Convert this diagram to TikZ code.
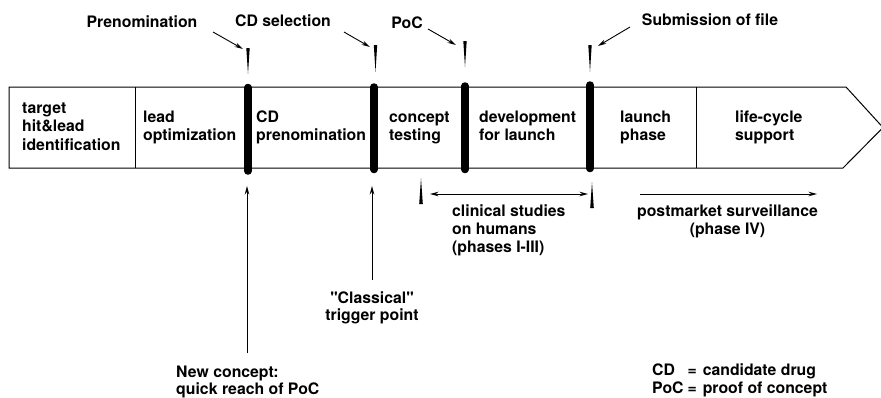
\documentclass[tikz,border=0pt]{standalone}
\usepackage{fontspec}
\newfontfamily\heros{TeX Gyre Heros}
\usetikzlibrary{arrows.meta}
\begin{document}
\begin{tikzpicture}[x=1pt,y=-1pt,
  lbl/.style={font=\heros\bfseries\fontsize{15.8}{18.5}\selectfont, inner sep=0pt, align=left, anchor=base west},
  ctr/.style={lbl, align=center, anchor=base},
  thickbar/.style={line width=7.5pt, line cap=round},
  thin/.style={line width=1pt},
  wedge/.style={fill=black, draw=none},
  pointer/.style={-{Stealth[length=8.5pt,width=4.5pt]}, line width=0.9pt},
  dpointer/.style={{Stealth[length=8.5pt,width=4.5pt]}-{Stealth[length=8.5pt,width=4.5pt]}, line width=0.9pt}]
\path[use as bounding box] (0,0) rectangle (881,397);

% band
\draw[thin] (9,87) -- (846,87) -- (883,127.5) -- (843,168) -- (9,168) -- cycle;
\draw[thin] (135,87) -- (135,168);
\draw[thin] (696,87) -- (696,168);

% thick milestone bars
\draw[thickbar] (248,87.5) -- (248,171);
\draw[thickbar] (374,87) -- (374,169.5);
\draw[thickbar] (465,86) -- (465,169.5);
\draw[thickbar] (590,85) -- (590,168.5);

% top wedges
\fill[wedge] (246.3,48) -- (249.7,48) -- (248,74) -- cycle;
\fill[wedge] (373.8,45) -- (377.2,45) -- (375.5,72) -- cycle;
\fill[wedge] (463.3,41) -- (466.7,41) -- (465,67) -- cycle;
\fill[wedge] (588.3,45) -- (591.7,45) -- (590,72) -- cycle;

% bottom wedges
\fill[wedge] (421,178) -- (422.8,204) -- (419.2,204) -- cycle;
\fill[wedge] (592,182) -- (593.8,208) -- (590.2,208) -- cycle;

% band texts (anchor = baseline of last line)
\node[lbl] (t1) at (22,150) {target\\hit\&lead\\identification};
\node[lbl] (t2) at (143,140.5) {lead\\optimization};
\node[lbl] (t3) at (256,140.5) {CD\\prenomination};
\node[lbl] (t4) at (389,140.5) {concept\\testing};
\node[lbl] (t5) at (479,140.5) {development\\for launch};
\node[lbl] (t6) at (620,140.5) {launch\\phase};
\node[lbl] (t7) at (735,140.5) {life-cycle\\support};

% top labels and pointers
\node[ctr] (pre) at (142,27) {Prenomination};
\node[ctr] (cds) at (283,26) {CD selection};
\node[ctr] (poc) at (407,28) {PoC};
\node[ctr] (sub) at (710,25) {Submission of file};
\coordinate (preS) at (213,32); \coordinate (preE) at (243,49);
\coordinate (cdsS) at (344,32); \coordinate (cdsE) at (370,47);
\coordinate (pocS) at (428,29); \coordinate (pocE) at (456,45);
\coordinate (subS) at (630,27); \coordinate (subE) at (598,46);
\draw[pointer] (preS) -- (preE);
\draw[pointer] (cdsS) -- (cdsE);
\draw[pointer] (pocS) -- (pocE);
\draw[pointer] (subS) -- (subE);

% clinical / postmarket ranges
\coordinate (clA) at (430,194); \coordinate (clB) at (588,194);
\coordinate (pmA) at (640,194); \coordinate (pmB) at (817,194);
\draw[dpointer] (clA) -- (clB);
\draw[pointer] (pmA) -- (pmB);
\node[lbl, font=\heros\bfseries\fontsize{15.8}{18}\selectfont] (clin) at (452,252) {clinical studies\\on humans\\(phases I-III)};
\node[ctr, font=\heros\bfseries\fontsize{15.8}{18}\selectfont] (post) at (727.5,234) {postmarket surveillance\\(phase IV)};

% vertical arrows
\node[ctr, font=\heros\bfseries\fontsize{15.8}{17}\selectfont] (clas) at (372,320) {"Classical"\\trigger point};
\node[lbl, font=\heros\bfseries\fontsize{15.8}{17}\selectfont] (newc) at (176,394) {New concept:\\quick reach of PoC};
\coordinate (nA) at (247,353); \coordinate (nB) at (247,186);
\coordinate (cA) at (372,280); \coordinate (cB) at (372,186);
\draw[pointer] (nA) -- (nB);
\draw[pointer] (cA) -- (cB);

% legend
\node[lbl, font=\heros\bfseries\fontsize{15.8}{18}\selectfont] (leg) at (652,393)
  {\begin{tabular}[b]{@{}l@{\hspace{4pt}}l@{\hspace{6pt}}l@{}}CD & = & candidate drug\\ PoC & = & proof of concept\end{tabular}};
\end{tikzpicture}
\end{document}
